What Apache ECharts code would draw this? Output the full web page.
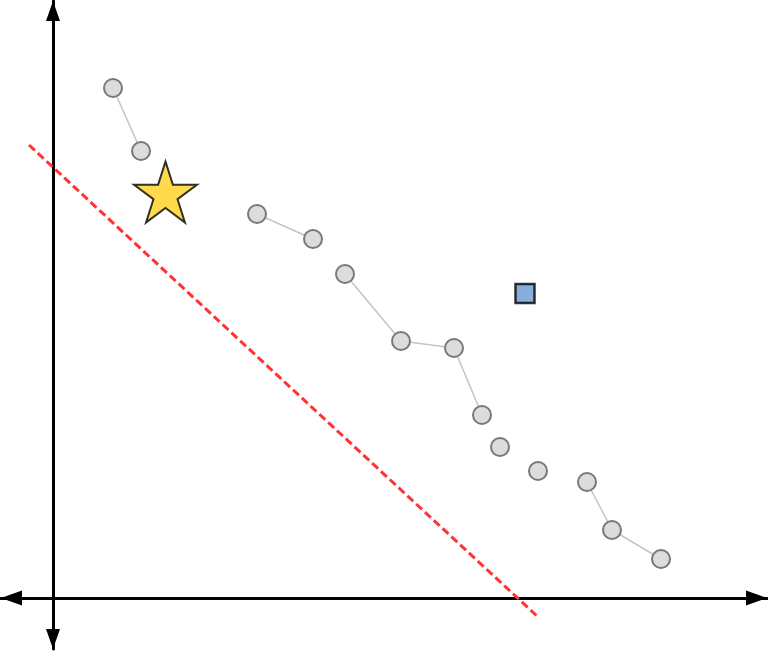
<!DOCTYPE html>
<html>
<head>
<meta charset="utf-8">
<script src="https://cdn.jsdelivr.net/npm/echarts@6/dist/echarts.min.js"></script>
<style>
  html, body { margin: 0; padding: 0; background: #ffffff; }
  #chart { width: 768px; height: 651px; }
</style>
</head>
<body>
<div id="chart"></div>
<script>
// Grey points (x, y in chart units, origin at the axes crossing)
const pointX = [6.0, 8.8, 20.4, 26.0, 29.2, 34.8, 40.1, 42.9, 44.7, 48.5, 53.4, 55.9, 60.8];
const pointY = [51.0, 44.7, 38.4, 35.9, 32.4, 25.7, 25.0, 18.3, 15.1, 12.7, 11.6, 6.8, 3.9];
// Which points are joined by thin lines
const segments = [[0, 1], [2, 3], [4, 5, 6, 7], [8], [9], [10, 11, 12]];
// Highlight markers
const starPoint = [11.25, 40.6];
const squarePoint = [47.2, 30.45];
// Red dashed line end points
const cutLineX = [-2.4, 48.4];
const cutLineY = [45.3, -1.8];

const chart = echarts.init(document.getElementById('chart'));

const series = [];
series.push({
  type: 'line',
  data: cutLineX.map((x, i) => [x, cutLineY[i]]),
  symbol: 'none',
  lineStyle: { color: '#ff3333', width: 3, type: [8, 4] },
  z: 3,
  silent: true
});
segments.forEach(seg => {
  series.push({
    type: 'line',
    data: seg.map(i => [pointX[i], pointY[i]]),
    symbol: 'circle',
    symbolSize: 18,
    showSymbol: true,
    lineStyle: { color: '#c4c4c4', width: 1.5 },
    itemStyle: { color: '#dcdcdc', borderColor: '#787878', borderWidth: 2 },
    z: 4,
    silent: true
  });
});
series.push({
  type: 'scatter',
  data: [starPoint],
  symbol: 'path://M50,0 L61.2,34.5 L97.6,34.5 L68.2,55.9 L79.4,90.5 L50,69.1 L20.6,90.5 L31.8,55.9 L2.4,34.5 L38.8,34.5 Z',
  symbolSize: [63, 61],
  itemStyle: { color: '#ffd21f', borderColor: '#000000', borderWidth: 2 },
  z: 5,
  silent: true
});
series.push({
  type: 'scatter',
  data: [squarePoint],
  symbol: 'rect',
  symbolSize: 19,
  itemStyle: { color: '#6a9bd2', borderColor: '#000000', borderWidth: 2.5 },
  z: 5,
  silent: true
});

chart.setOption({
  animation: false,
  backgroundColor: '#ffffff',
  grid: { left: 1, right: 1, top: 1, bottom: 2, containLabel: false },
  xAxis: {
    type: 'value',
    min: -5.2,
    max: 71.4,
    axisLine: {
      onZero: true,
      lineStyle: { color: '#000000', width: 3 },
      symbol: ['triangle', 'triangle'],
      symbolSize: [15, 21],
      symbolOffset: [10.5, -10.5]
    },
    axisTick: { show: false },
    axisLabel: { show: false },
    splitLine: { show: false }
  },
  yAxis: {
    type: 'value',
    min: -5.1,
    max: 59.7,
    axisLine: {
      onZero: true,
      lineStyle: { color: '#000000', width: 3 },
      symbol: ['triangle', 'triangle'],
      symbolSize: [14, 20],
      symbolOffset: [10, -10]
    },
    axisTick: { show: false },
    axisLabel: { show: false },
    splitLine: { show: false }
  },
  series: series
});
</script>
</body>
</html>
